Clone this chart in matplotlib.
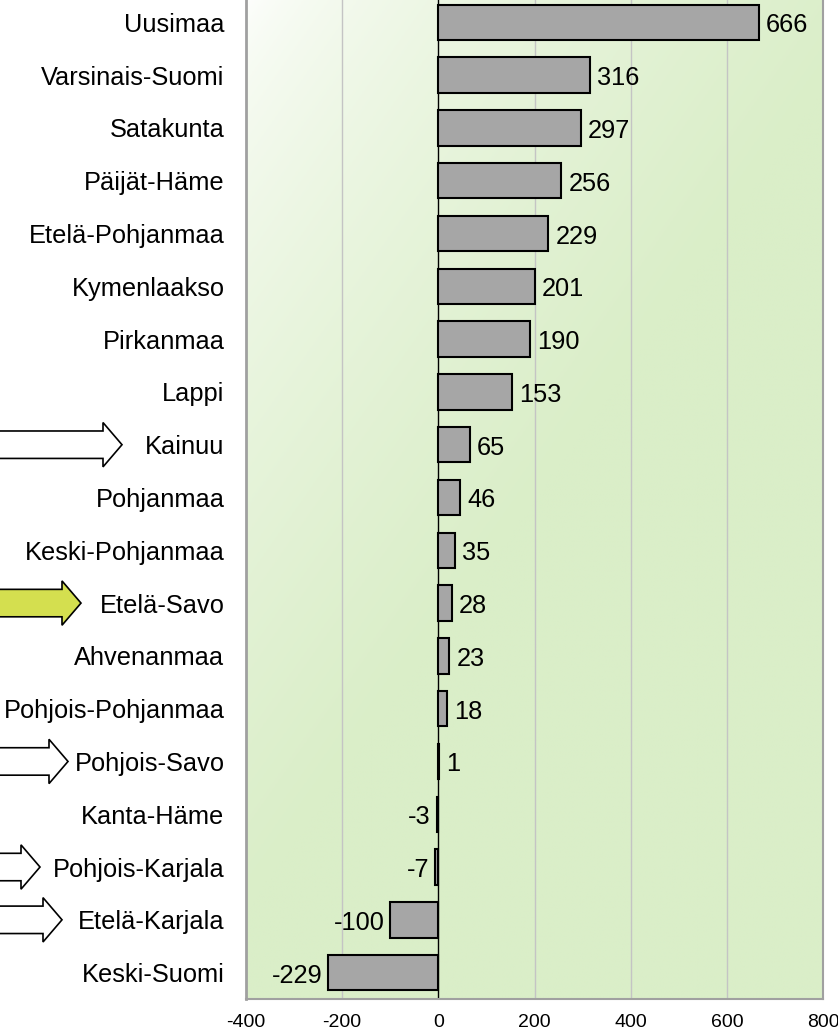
import numpy as np
import matplotlib
matplotlib.use("Agg")
import matplotlib.pyplot as plt
from matplotlib.patches import Polygon
from matplotlib.transforms import blended_transform_factory

plt.rcParams['font.family'] = ['Liberation Sans', 'DejaVu Sans']
plt.rcParams['axes.unicode_minus'] = False

regions = ["Uusimaa", "Varsinais-Suomi", "Satakunta", "Päijät-Häme", "Etelä-Pohjanmaa",
           "Kymenlaakso", "Pirkanmaa", "Lappi", "Kainuu", "Pohjanmaa", "Keski-Pohjanmaa",
           "Etelä-Savo", "Ahvenanmaa", "Pohjois-Pohjanmaa", "Pohjois-Savo", "Kanta-Häme",
           "Pohjois-Karjala", "Etelä-Karjala", "Keski-Suomi"]
values = [666, 316, 297, 256, 229, 201, 190, 153, 65, 46, 35, 28, 23, 18, 1, -3, -7, -100, -229]
x_ticks = [-400, -200, 0, 200, 400, 600, 800]

# arrows on the left: region -> (tip x in px, fill colour)
arrows = {
    "Kainuu": (122, "white"),
    "Etelä-Savo": (81, "#d4df4f"),
    "Pohjois-Savo": (68, "white"),
    "Pohjois-Karjala": (40, "white"),
    "Etelä-Karjala": (62, "white"),
}

W, H = 838, 1033
fig = plt.figure(figsize=(W / 100, H / 100), dpi=100)
ax = fig.add_axes([246 / W, 1 - 999 / H, (823 - 246) / W, (999 + 4) / H])

y = np.arange(len(regions))

# gradient background
gx, gy = np.meshgrid(np.linspace(0, 1, 200), np.linspace(0, 1, 200))
t = np.clip((gx * 0.9 + gy * 1.1) / 1.0, 0, 1) ** 0.6
c0 = np.array([1.0, 1.0, 1.0])
c1 = np.array([0xda, 0xee, 0xc8]) / 255
img = c0 + (c1 - c0) * t[..., None]
ax.imshow(img, extent=[-400, 800, len(regions) - 0.5, -0.5], aspect='auto', zorder=0)

for xv in x_ticks[1:-1]:
    if xv != 0:
        ax.axvline(xv, color='#c4c4c4', lw=1, zorder=1)
ax.axvline(0, color='black', lw=1, zorder=2)

ax.barh(y, values, height=0.67, color='#a6a6a6', edgecolor='black', lw=1.5, zorder=3)

for yi, v in zip(y, values):
    if v >= 0:
        ax.annotate(str(v), (v, yi), xytext=(7, -3), textcoords='offset pixels',
                    ha='left', va='center', fontsize=18.3, zorder=4)
    else:
        ax.annotate(str(v), (v, yi), xytext=(-6, -3), textcoords='offset pixels',
                    ha='right', va='center', fontsize=18.3, zorder=4)

ax.set_xlim(-400, 800)
ax.set_ylim(len(regions) - 0.5, -0.5)
ax.set_xticks(x_ticks)
ax.set_yticks(y)
ax.set_yticklabels(regions, fontsize=18.3)
ax.tick_params(axis='y', length=0, pad=15.5)
ax.tick_params(axis='x', length=0, pad=11, labelsize=14)
for s in ax.spines.values():
    s.set_color('#a0a0a0')
    s.set_linewidth(1.5)
ax.spines['left'].set_linewidth(2)

# arrows: x in figure pixels, y in data units
tr = blended_transform_factory(fig.transFigure, ax.transData)
for name, (tip, fc) in arrows.items():
    yc = regions.index(name)
    head = 19
    sh, hh = 0.26, 0.42
    xs = np.array([-5, tip - head, tip - head, tip, tip - head, tip - head, -5]) / W
    ys = yc + np.array([-sh, -sh, -hh, 0, hh, sh, sh])
    poly = Polygon(np.column_stack([xs, ys]), closed=True, facecolor=fc, edgecolor='black',
                   lw=1.2, transform=tr, clip_on=False)
    fig.add_artist(poly)

fig.savefig("out.png", dpi=100)
